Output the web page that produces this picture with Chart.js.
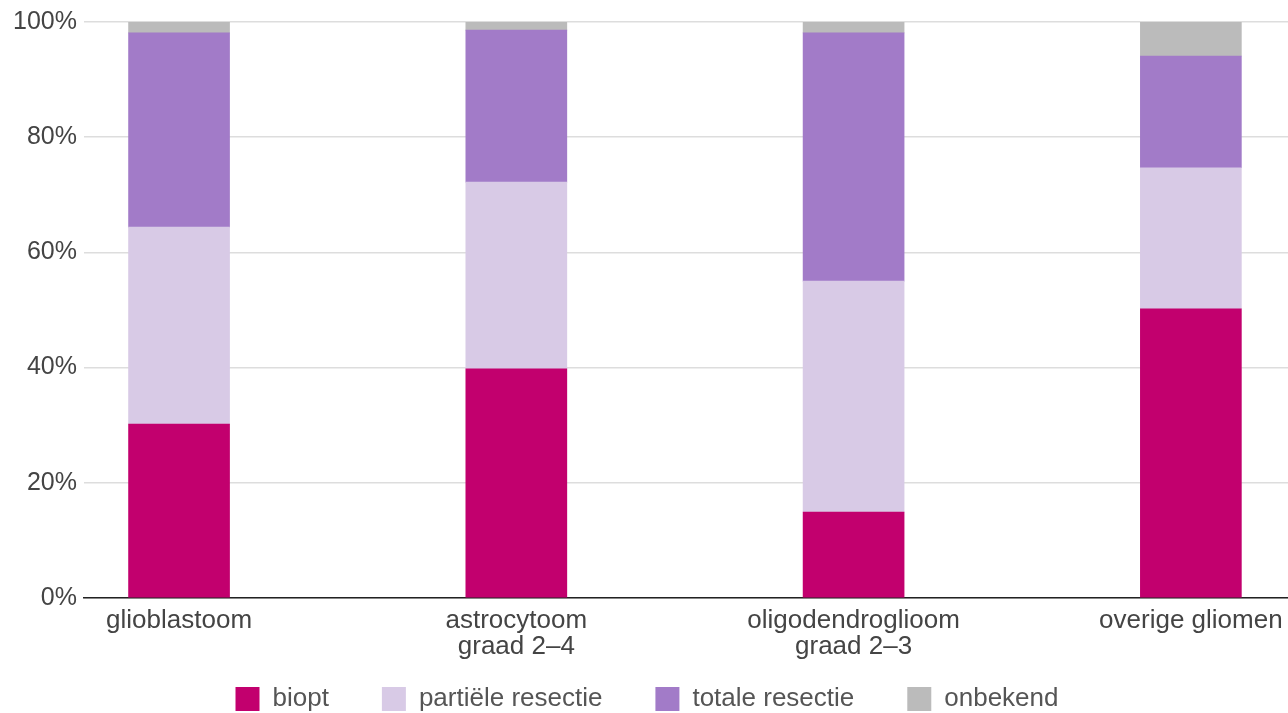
<!DOCTYPE html>
<html lang="nl">
<head>
  <meta charset="UTF-8">
  <title>Type operatie per tumortype</title>
  <script src="https://cdn.jsdelivr.net/npm/chart.js"></script>
  <style>
    html, body {
      margin: 0;
      padding: 0;
      background: #fff;
    }
    #wrap {
      width: 1288px;
      height: 713px;
    }
  </style>
</head>
<body>
  <div id="wrap"><canvas id="chart"></canvas></div>

  <script>
    const categories = [
      ['glioblastoom'],
      ['astrocytoom', 'graad 2–4'],
      ['oligodendroglioom', 'graad 2–3'],
      ['overige gliomen']
    ];
    const biopt = [30.2, 39.8, 14.9, 50.2];
    const partieel = [34.2, 32.4, 40.1, 24.5];
    const totaal = [33.7, 26.4, 43.1, 19.4];
    const onbekend = [1.9, 1.4, 1.9, 5.9];
    const yTicks = [0, 20, 40, 60, 80, 100];

    const font = '"Liberation Sans", Arial, sans-serif';

    function points(values) {
      return values.map((v, i) => ({ x: i, y: v }));
    }

    function set(label, values, color) {
      return {
        label: label,
        data: points(values),
        backgroundColor: color,
        borderWidth: 0,
        barThickness: 101
      };
    }

    new Chart(document.getElementById('chart'), {
      type: 'bar',
      data: {
        datasets: [
          set('biopt', biopt, '#c2006e'),
          set('partiële resectie', partieel, '#d8cae6'),
          set('totale resectie', totaal, '#a27bc8'),
          set('onbekend', onbekend, '#bbbbbb')
        ]
      },
      options: {
        responsive: true,
        maintainAspectRatio: false,
        animation: false,
        layout: { padding: { top: 7, right: 0, left: 6, bottom: -9 } },
        scales: {
          x: {
            type: 'linear',
            stacked: true,
            offset: false,
            min: -0.282,
            max: 3.288,
            grid: { display: false, drawTicks: false, offset: false },
            border: { display: true, color: '#222', width: 1.5 },
            // mirror + negative padding: labels sit under the axis without clipping,
            // so the legend's empty top padding can overlap them
            afterFit: s => { s.height = 35; },
            ticks: {
              stepSize: 1,
              includeBounds: false,
              autoSkip: false,
              maxRotation: 0,
              mirror: true,
              padding: -36,
              color: '#444',
              font: { family: font, size: 26, lineHeight: 1.0 },
              callback: v => Number.isInteger(v) && categories[v] ? categories[v] : ''
            }
          },
          y: {
            stacked: true,
            min: 0,
            max: 100,
            grid: { color: '#dddddd', lineWidth: 1.5, drawTicks: false },
            border: { display: false },
            afterBuildTicks: axis => { axis.ticks = yTicks.map(v => ({ value: v })); },
            ticks: {
              padding: 7,
              color: '#444',
              font: { family: font, size: 25 },
              callback: v => v + '%'
            }
          }
        },
        plugins: {
          legend: {
            position: 'bottom',
            labels: {
              boxWidth: 24,
              boxHeight: 24,
              padding: 53,
              color: '#555',
              font: { family: font, size: 26 }
            }
          },
          tooltip: { enabled: false }
        }
      }
    });
  </script>
</body>
</html>
